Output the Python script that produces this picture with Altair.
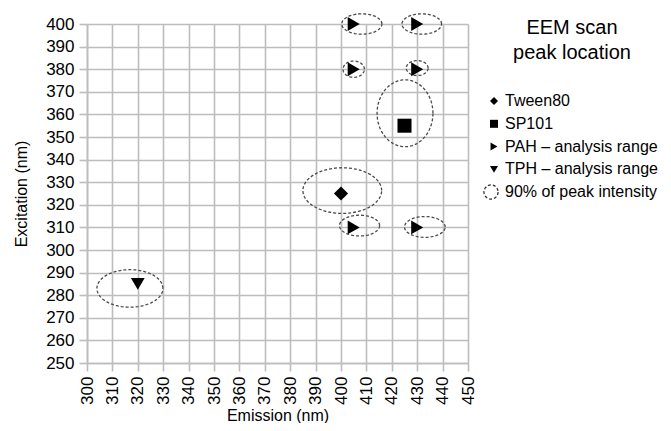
import altair as alt
import pandas as pd
import numpy as np

# ---- data ----
point_type = ["Tween80", "SP101",
              "PAH – analysis range", "PAH – analysis range",
              "PAH – analysis range", "PAH – analysis range",
              "PAH – analysis range", "PAH – analysis range",
              "TPH – analysis range"]
emission = [400, 425, 405, 430, 405, 430, 405, 430, 320]
excitation = [325, 355, 400, 400, 380, 380, 310, 310, 285]

# 90% of peak intensity regions (centre and half-widths, in nm)
ell_cx = [400.5, 425.2, 408.2, 431.8, 405.0, 430.0, 407.3, 433.0, 316.9]
ell_cy = [326.3, 360.5, 400.0, 400.0, 380.0, 380.5, 310.8, 310.2, 283.0]
ell_rx = [15.5, 11.0, 7.9, 7.8, 4.2, 4.3, 7.9, 8.0, 13.0]
ell_ry = [10.1, 14.8, 4.5, 4.5, 3.6, 3.3, 4.6, 4.6, 8.3]
ell_label = "90% of peak intensity"

legend_labels = ["Tween80", "SP101", "PAH – analysis range", "TPH – analysis range"]
legend_shapes = ["diamond", "square", "triangle-right", "triangle-down"]
marker_sizes = [110, 86, 200, 190]

x_ticks = list(range(300, 451, 10))
y_ticks = list(range(250, 401, 10))

# ---- tables ----
pts = pd.DataFrame({"type": point_type, "Emission": emission, "Excitation": excitation})
pts["marker"] = pts["type"]

theta = np.linspace(0, 2 * np.pi, 73)
rows = []
for i, (cx, cy, rx, ry) in enumerate(zip(ell_cx, ell_cy, ell_rx, ell_ry)):
    for k, t in enumerate(theta):
        rows.append({"id": i, "k": k, "label": ell_label,
                     "Emission": cx + rx * np.cos(t),
                     "Excitation": cy + ry * np.sin(t)})
ell = pd.DataFrame(rows)

xs = alt.Scale(domain=[300, 450], nice=False, zero=False)
ys = alt.Scale(domain=[250, 400], nice=False, zero=False)
xax = alt.Axis(values=x_ticks, labelAngle=-90, title="Emission (nm)", titlePadding=3)
yax = alt.Axis(values=y_ticks, title="Excitation (nm)", titlePadding=16)

ellipses = alt.Chart(ell).mark_line(
    color="#4a4a4a", strokeWidth=1.3
).encode(
    x=alt.X("Emission:Q", scale=xs, axis=xax),
    y=alt.Y("Excitation:Q", scale=ys, axis=yax),
    detail="id:N",
    order="k:Q",
    strokeDash=alt.StrokeDash(
        "label:N",
        scale=alt.Scale(domain=[ell_label], range=[[3, 2]]),
        legend=alt.Legend(
            title=None, orient="none", legendX=396, legendY=160,
            labelFontSize=16, labelColor="#000000", labelLimit=400, padding=0,
            symbolType="circle", symbolFillColor="transparent",
            symbolStrokeColor="#333333", symbolStrokeWidth=1.3,
            symbolDash=[2, 2], symbolSize=200, labelOffset=6,
        ),
    ),
)

# size scale domain listed in reverse so it is not merged with the shape legend
size_domain = legend_labels[::-1]
size_range = marker_sizes[::-1]

points = alt.Chart(pts).mark_point(filled=True, color="black", opacity=1).encode(
    x=alt.X("Emission:Q", scale=xs, axis=xax),
    y=alt.Y("Excitation:Q", scale=ys, axis=yax),
    shape=alt.Shape(
        "type:N",
        scale=alt.Scale(domain=legend_labels, range=legend_shapes),
        legend=alt.Legend(
            title=["EEM scan", "peak location"],
            orient="none", legendX=399, legendY=-6,
            titleFontSize=20, titleFontWeight="normal", titleColor="#000000",
            titleAlign="center", titleAnchor="middle", titleLineHeight=25,
            titlePadding=30,
            labelFontSize=16, labelColor="#000000", labelLimit=400, labelOffset=3,
            rowPadding=6.8, padding=0, symbolSize=64,
            symbolFillColor="black", symbolStrokeWidth=0,
        ),
    ),
    size=alt.Size("marker:N", scale=alt.Scale(domain=size_domain, range=size_range), legend=None),
)

chart = alt.layer(ellipses, points).resolve_legend(
    shape="independent", size="independent", strokeDash="independent"
).properties(
    width=381, height=339,
    autosize="none",
    padding={"left": 79, "top": 16, "right": 195, "bottom": 60},
).configure(
    font="Liberation Sans"
).configure_view(
    strokeWidth=0
).configure_axis(
    gridColor="#bdbdbd", gridWidth=1.6, gridOpacity=1,
    domainColor="#bdbdbd", domainWidth=1.6,
    tickColor="#bdbdbd", tickWidth=1.6, tickSize=8,
    labelFontSize=17, labelColor="#000000", labelPadding=5,
    titleFontSize=16, titleFontWeight="normal", titleColor="#000000",
)

chart.save("out.html", embed_options={"renderer": "svg", "actions": False})
